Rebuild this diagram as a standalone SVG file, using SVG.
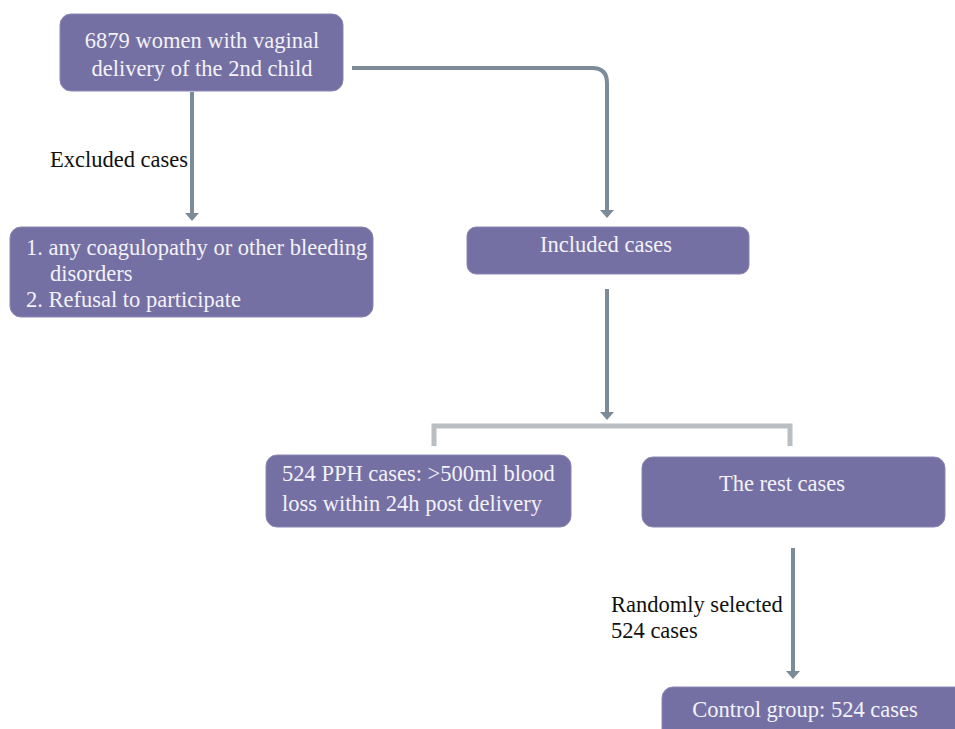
<svg xmlns="http://www.w3.org/2000/svg" width="955" height="729" viewBox="0 0 955 729">
<style>
.box{fill:#7570a3;stroke:#8a86b4;stroke-width:1}
.bt{font-family:"Liberation Serif","Times New Roman",serif;font-size:22.5px;fill:#f3f2fa}
.lt{font-family:"Liberation Serif","Times New Roman",serif;font-size:22.5px;fill:#111}
.arr{fill:none;stroke:#7b8b98;stroke-width:4}
.br{fill:none;stroke:#b8bec1;stroke-width:5}
</style>
<defs>
<marker id="ah" markerWidth="9" markerHeight="14" refX="1" refY="7" orient="auto" markerUnits="userSpaceOnUse">
<path d="M0,0 L8,7 L0,14 Z" fill="#7b8b98"/>
</marker>
</defs>
<rect width="955" height="729" fill="#fff"/>
<g id="connectors">
<path class="arr" d="M192,92 V214" marker-end="url(#ah)"/>
<path class="arr" d="M352,68 H592 Q607,68 607,83 V211" marker-end="url(#ah)"/>
<path class="arr" d="M607,289 V413" marker-end="url(#ah)"/>
<path class="br" d="M434,446 V426 H790 V446"/>
<path class="arr" d="M793,548 V672" marker-end="url(#ah)"/>
</g>
<g id="n1">
<rect class="box" x="60" y="14" width="283" height="77" rx="11"/>
<text class="bt" x="202" y="48" text-anchor="middle">6879 women with vaginal</text>
<text class="bt" x="202" y="76" text-anchor="middle">delivery of the 2nd child</text>
</g>
<g id="excluded-label">
<text class="lt" x="50" y="167">Excluded cases</text>
</g>
<g id="n2">
<rect class="box" x="10" y="227" width="363" height="90" rx="11"/>
<text class="bt" x="26" y="255">1. any coagulopathy or other bleeding</text>
<text class="bt" x="50" y="281">disorders</text>
<text class="bt" x="26" y="307">2. Refusal to participate</text>
</g>
<g id="n3">
<rect class="box" x="467" y="227" width="282" height="47" rx="9"/>
<text class="bt" x="606" y="252" text-anchor="middle">Included cases</text>
</g>
<g id="n4">
<rect class="box" x="266" y="455" width="305" height="72" rx="11"/>
<text class="bt" x="282" y="481">524 PPH cases: &gt;500ml blood</text>
<text class="bt" x="282" y="511">loss within 24h post delivery</text>
</g>
<g id="n5">
<rect class="box" x="642" y="457" width="303" height="70" rx="11"/>
<text class="bt" x="782" y="491" text-anchor="middle">The rest cases</text>
</g>
<g id="random-label">
<text class="lt" x="611" y="612">Randomly selected</text>
<text class="lt" x="611" y="638">524 cases</text>
</g>
<g id="n6">
<rect class="box" x="662" y="687" width="305" height="60" rx="11"/>
<text class="bt" x="805" y="717" text-anchor="middle">Control group: 524 cases</text>
</g>
</svg>
